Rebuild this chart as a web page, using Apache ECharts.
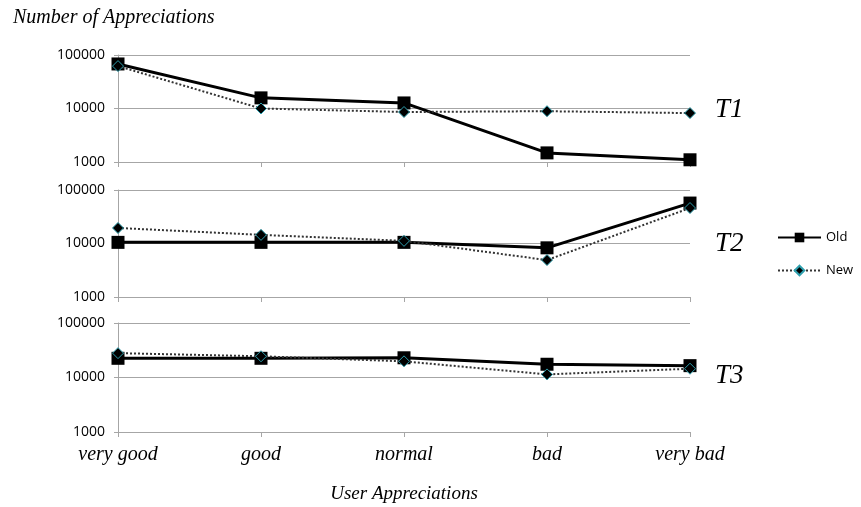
<!DOCTYPE html>
<html>
<head>
<meta charset="utf-8">
<script src="https://cdn.jsdelivr.net/npm/echarts@6/dist/echarts.min.js"></script>
<style>
  html, body { margin: 0; padding: 0; background: #fff; }
  #chart { width: 861px; height: 507px; }
</style>
</head>
<body>
<div id="chart"></div>
<script>
// categories (x axis)
const categories = ['very good', 'good', 'normal', 'bad', 'very bad']
const panelNames = ['T1', 'T2', 'T3']

// values, one array per panel and series
const oldT1 = [68000, 15800, 12700, 1480, 1100]
const newT1 = [62000, 10000, 8600, 8900, 8200]
const oldT2 = [10500, 10500, 10500, 8300, 57000]
const newT2 = [19500, 14500, 11200, 4900, 46000]
const oldT3 = [22500, 22500, 23000, 17500, 16500]
const newT3 = [28000, 24500, 19800, 11400, 14500]

const oldData = [oldT1, oldT2, oldT3]
const newData = [newT1, newT2, newT3]

const yMin = 1000
const yMax = 100000

let myChart = echarts.init(document.getElementById('chart'))

// panel boxes
const grids = [
    { left: 118, right: 171, top: 55, height: 107 },
    { left: 118, right: 171, top: 190, height: 107 },
    { left: 118, right: 171, top: 323, height: 109 }
]

const serif = '"Liberation Serif", "DejaVu Serif", serif'
const sans = '"Open Sans", "Liberation Sans", sans-serif'

let xAxes = [], yAxes = [], series = []
grids.forEach((g, i) => {
    xAxes.push({
        type: 'category',
        gridIndex: i,
        data: categories,
        boundaryGap: false,
        axisLine: { lineStyle: { color: '#a6a6a6', width: 1 } },
        axisTick: { show: true, length: 5, alignWithLabel: true, lineStyle: { color: '#a6a6a6' } },
        axisLabel: {
            show: i === 2,
            color: '#000',
            fontFamily: serif,
            fontStyle: 'italic',
            fontSize: 20,
            margin: 13
        },
        name: i === 2 ? 'User Appreciations' : '',
        nameLocation: 'middle',
        nameGap: 52,
        nameTextStyle: { color: '#000', fontFamily: serif, fontStyle: 'italic', fontSize: 19 }
    })
    yAxes.push({
        type: 'log',
        logBase: 10,
        gridIndex: i,
        min: yMin,
        max: yMax,
        axisLine: { show: true, lineStyle: { color: '#a6a6a6' } },
        axisTick: { show: true, length: 4, lineStyle: { color: '#a6a6a6' } },
        splitLine: { show: true, lineStyle: { color: '#a6a6a6', width: 1 } },
        axisLabel: {
            color: '#000',
            fontFamily: sans,
            fontSize: 14,
            margin: 13,
            formatter: v => String(Math.round(v))
        }
    })
    series.push({
        name: 'Old',
        type: 'line',
        xAxisIndex: i,
        yAxisIndex: i,
        data: oldData[i],
        symbol: 'rect',
        symbolSize: 13,
        lineStyle: { color: '#000', width: 3 },
        itemStyle: { color: '#000' },
        z: 2
    })
    series.push({
        name: 'New',
        type: 'line',
        xAxisIndex: i,
        yAxisIndex: i,
        data: newData[i],
        symbol: 'diamond',
        symbolSize: 11,
        lineStyle: { color: '#333', width: 2, type: [2, 2] },
        itemStyle: { color: '#000', borderColor: '#2e9fae', borderWidth: 1 },
        z: 3
    })
})

// panel labels T1..T3 next to each panel
let graphics = panelNames.map((t, i) => ({
    type: 'text',
    left: 715,
    top: [96, 230, 362][i],
    style: { text: t, font: 'italic 27px ' + serif, fill: '#000' }
}))
graphics.push({
    type: 'text',
    left: 13,
    top: 8,
    style: { text: 'Number of Appreciations', font: 'italic 20px ' + serif, fill: '#000' }
})

let option = {
    animation: false,
    backgroundColor: '#fff',
    grid: grids,
    xAxis: xAxes,
    yAxis: yAxes,
    series: series,
    legend: {
        data: ['Old', 'New'],
        orient: 'vertical',
        left: 772,
        top: 226,
        itemWidth: 43,
        itemHeight: 12,
        itemGap: 20,
        textStyle: { color: '#000', fontFamily: sans, fontSize: 13 }
    },
    graphic: graphics
}
myChart.setOption(option)
window.addEventListener('resize', function() {
    myChart.resize()
})
</script>
</body>
</html>
